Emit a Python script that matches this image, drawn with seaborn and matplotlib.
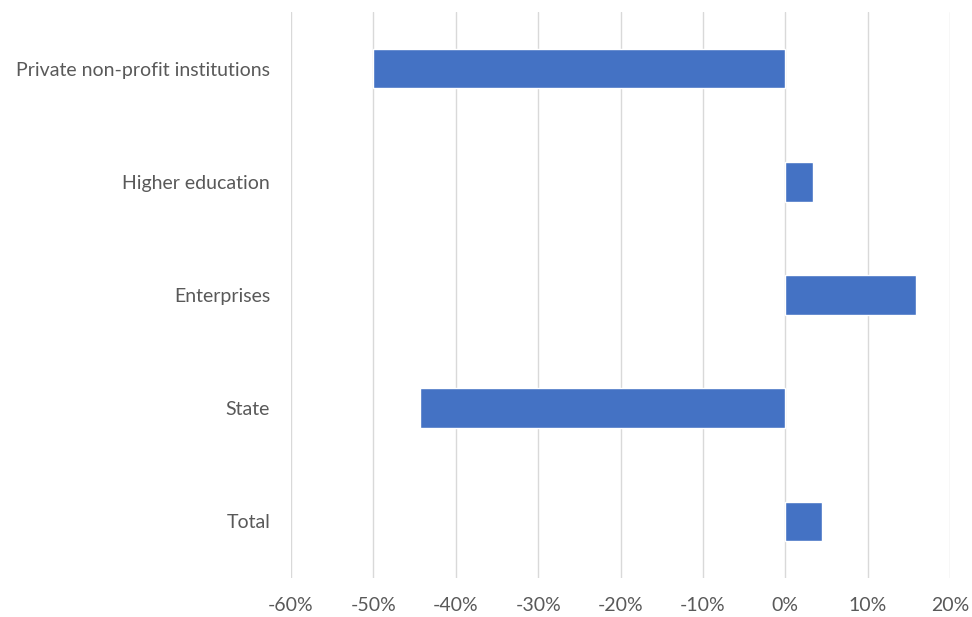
import pandas as pd
import seaborn as sns
import matplotlib.pyplot as plt
from matplotlib.ticker import FuncFormatter

# data (change in percent)
sectors = ['Private non-profit institutions', 'Higher education',
           'Enterprises', 'State', 'Total']
change = [-50.0, 3.4, 15.9, -44.4, 4.5]

df = pd.DataFrame({'sector': sectors, 'change': change})

sns.set_style('white')
plt.rcParams['font.family'] = ['Lato', 'DejaVu Sans']

fig = plt.figure(figsize=(9.72, 6.17), dpi=100)
ax = fig.add_axes([0.2994, 0.0632, 0.6780, 0.9174])

sns.barplot(data=df, x='change', y='sector', order=sectors,
            color='#4472C4', saturation=1, width=0.35, ax=ax, zorder=3)

ax.set_xlim(-60, 20)
ax.set_ylim(4.5, -0.5)
ax.set_xticks(range(-60, 21, 10))
ax.xaxis.set_major_formatter(FuncFormatter(lambda v, p: f'{v:.0f}%'))
ax.grid(axis='x', color='#d9d9d9', linewidth=1, zorder=0)
ax.set_axisbelow(True)
for s in ax.spines.values():
    s.set_visible(False)
ax.tick_params(axis='both', length=0, labelsize=14, labelcolor='#595959')
ax.tick_params(axis='x', pad=14)
ax.tick_params(axis='y', pad=15)
ax.set_xlabel('')
ax.set_ylabel('')

plt.savefig('out.png', dpi=100)
